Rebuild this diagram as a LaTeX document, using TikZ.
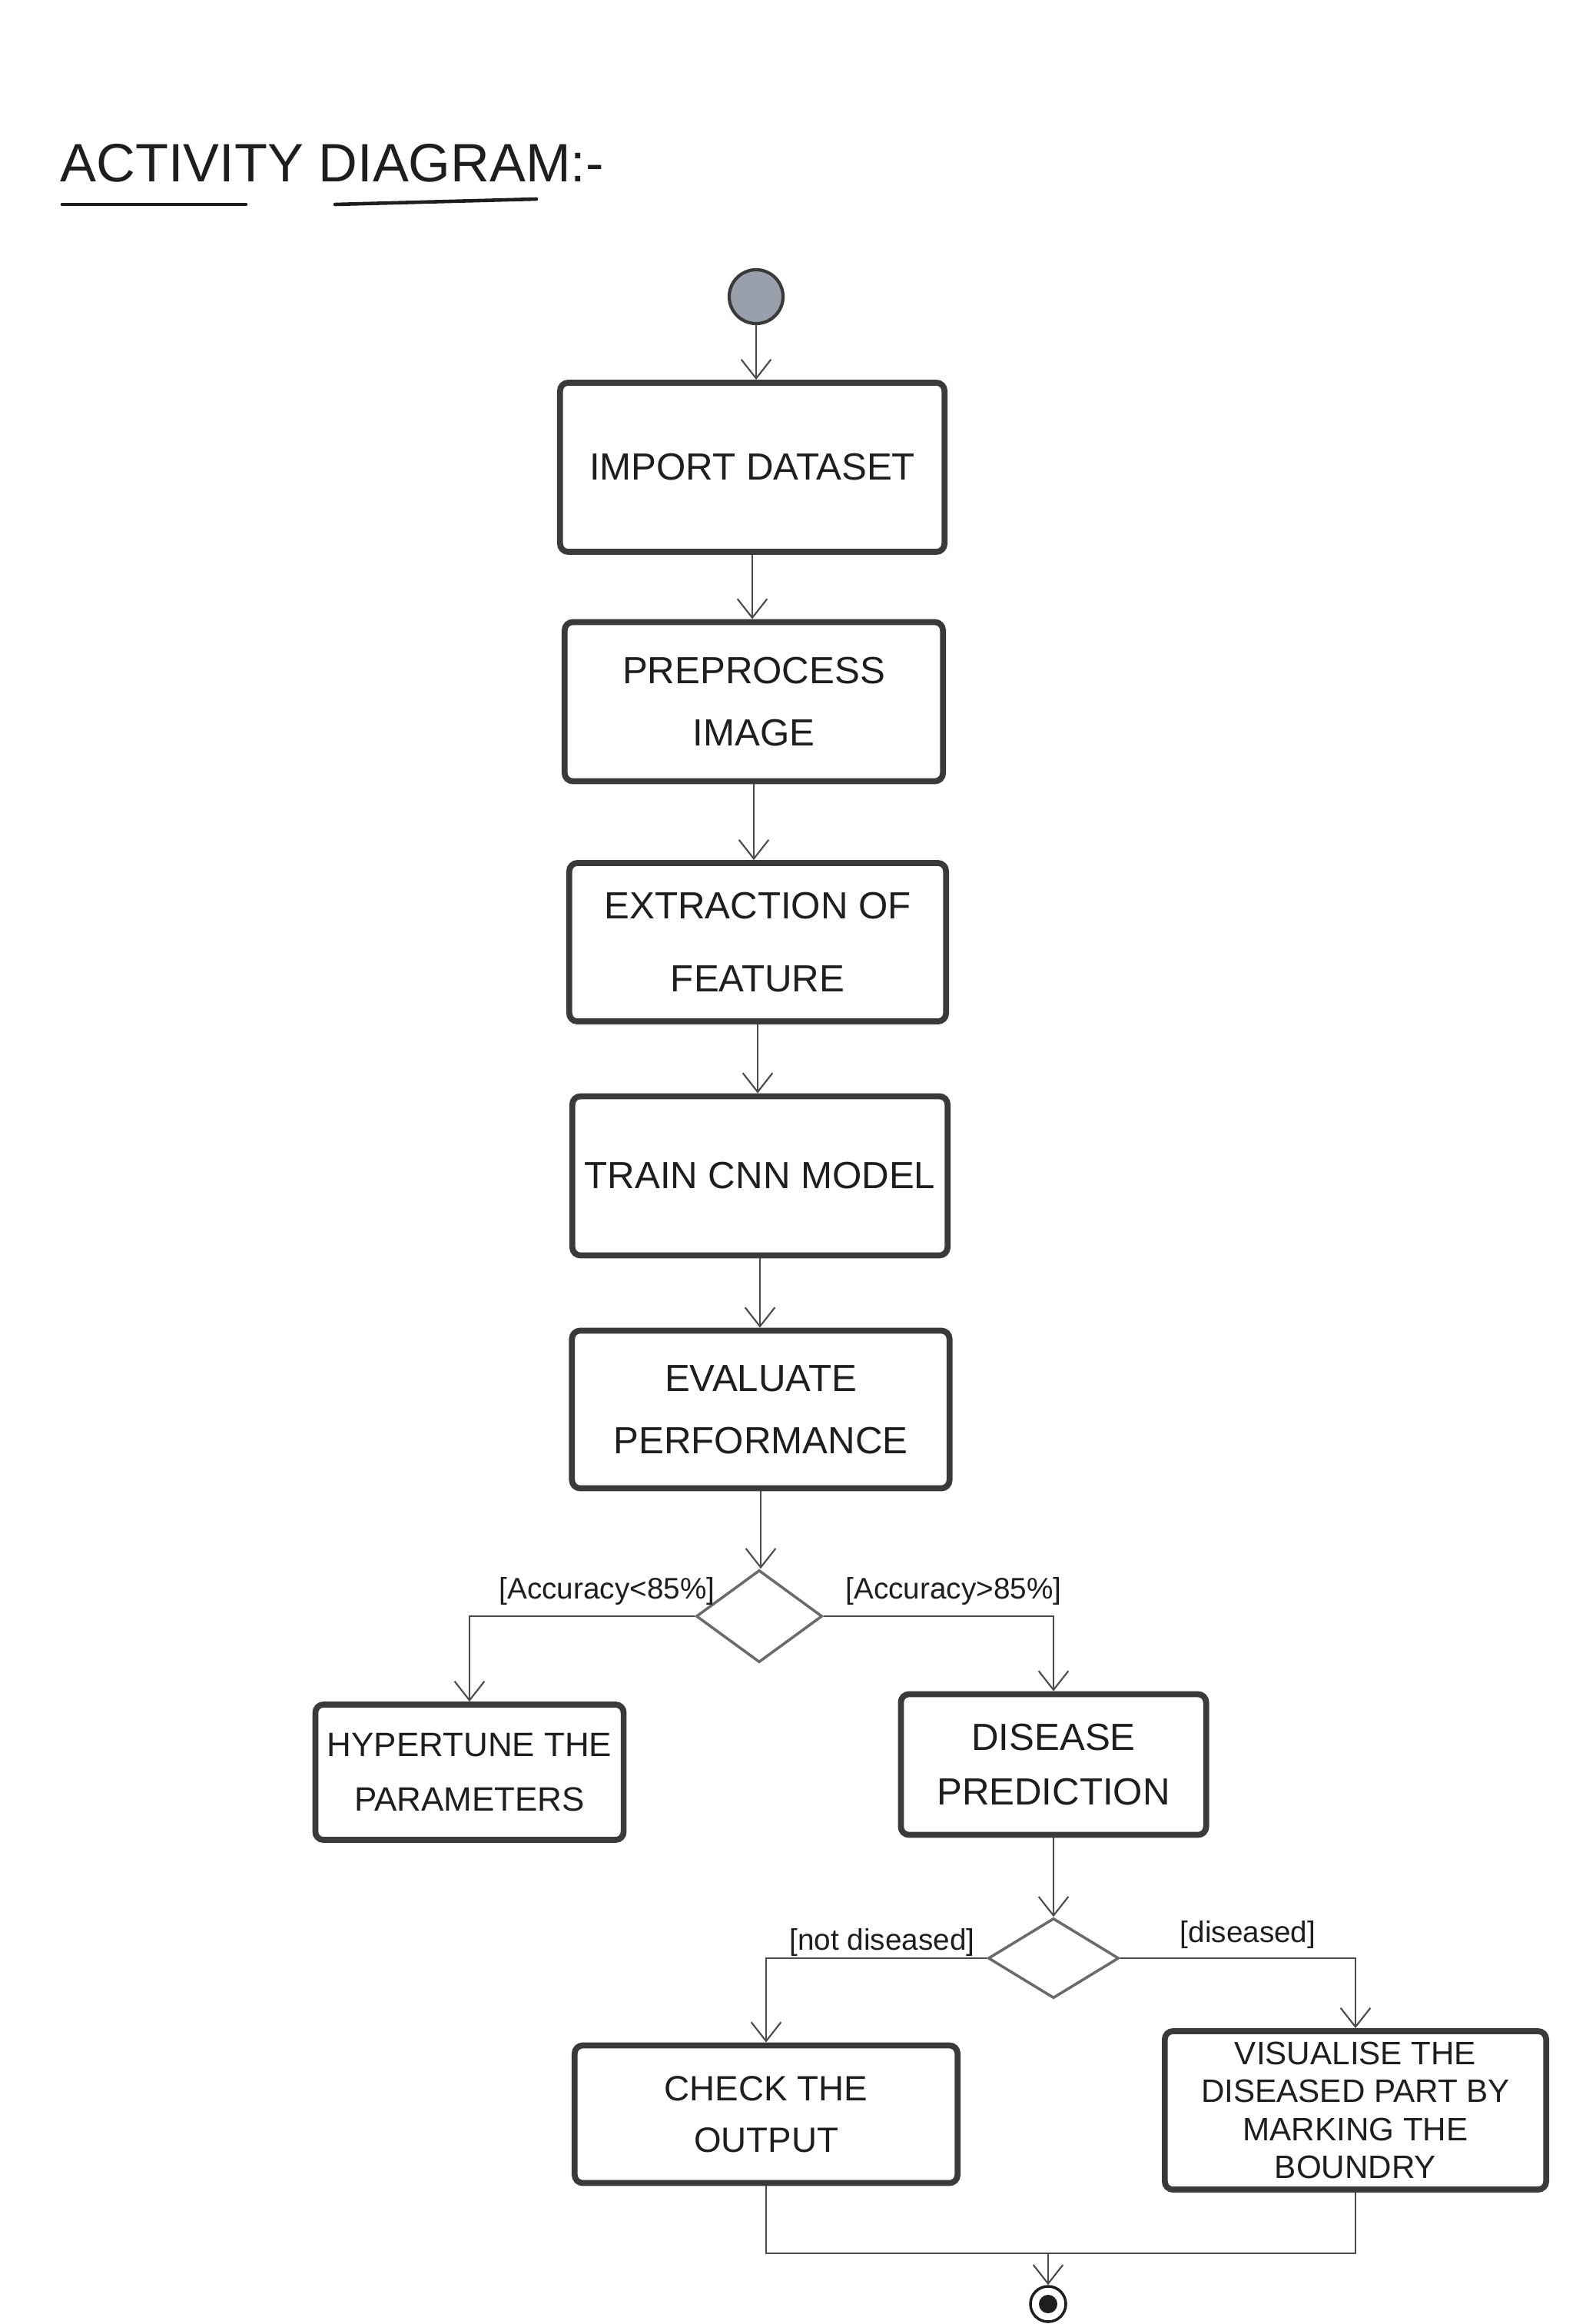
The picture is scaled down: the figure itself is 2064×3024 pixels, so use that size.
\documentclass[tikz,border=0pt]{standalone}
\usepackage{fontspec}
\setmainfont{Liberation Sans}
\usetikzlibrary{shapes.geometric,arrows.meta}
\definecolor{ink}{HTML}{1E1E1E}
\definecolor{boxline}{HTML}{3A3A3A}
\definecolor{conn}{HTML}{4A4A4A}
\definecolor{dline}{HTML}{6A6A6A}
\definecolor{startfill}{HTML}{9AA0AB}
\tikzset{
  actbox/.style={draw=boxline, line width=2.2pt, rounded corners=3pt, align=center,
    text=ink, font=\fontsize{14}{23}\selectfont, inner sep=2pt},
  guard/.style={text=ink, font=\fontsize{11}{13}\selectfont, inner sep=1pt},
  flow/.style={draw=conn, line width=0.6pt, -{Straight Barb[length=7pt,width=11pt]}},
  plainflow/.style={draw=conn, line width=0.6pt},
  decision/.style={diamond, draw=dline, line width=1pt, inner sep=0pt,
    minimum width=1.64cm, minimum height=1.2cm},
}
\begin{document}
\begin{tikzpicture}[x=0.01cm,y=-0.01cm]
\useasboundingbox (0,0) rectangle (2064,3024);
% title
\node[anchor=west, text=ink, font=\fontsize{20}{24}\selectfont, inner sep=0pt] (title) at (78,212) {ACTIVITY DIAGRAM:-};
\draw[ink, line width=1.3pt, line cap=round] (81,266) -- (320,266);
\draw[ink, line width=1.3pt, line cap=round] (436,266) -- (698,259);
% start
\node[circle, draw=boxline, line width=1.2pt, fill=startfill, minimum size=0.7cm, inner sep=0pt] (start) at (984,386) {};
% activities
\node[actbox, minimum width=5.0cm, minimum height=2.2cm] (import) at (979,608) {IMPORT DATASET};
\node[actbox, minimum width=4.92cm, minimum height=2.07cm] (prep) at (981,913) {PREPROCESS\\IMAGE};
\node[actbox, minimum width=4.9cm, minimum height=2.06cm, font=\fontsize{14}{27}\selectfont] (extr) at (986,1226) {EXTRACTION OF\\FEATURE};
\node[actbox, minimum width=4.88cm, minimum height=2.07cm] (train) at (989,1530) {TRAIN CNN MODEL};
\node[actbox, minimum width=4.91cm, minimum height=2.05cm] (eval) at (990,1834) {EVALUATE\\PERFORMANCE};
\node[decision] (d1) at (988,2103) {};
\node[actbox, minimum width=4.01cm, minimum height=1.76cm, font=\fontsize{12.5}{20}\selectfont] (hyper) at (611,2306) {HYPERTUNE THE\\PARAMETERS};
\node[actbox, minimum width=3.97cm, minimum height=1.83cm, font=\fontsize{14}{20}\selectfont] (disease) at (1371,2296) {DISEASE\\PREDICTION};
\node[decision, minimum width=1.7cm, minimum height=1.04cm] (d2) at (1371,2548) {};
\node[actbox, minimum width=4.98cm, minimum height=1.79cm, font=\fontsize{13}{19}\selectfont] (check) at (997,2751) {CHECK THE\\OUTPUT};
\node[actbox, minimum width=4.96cm, minimum height=2.06cm, font=\fontsize{12}{14}\selectfont] (vis) at (1764,2746) {VISUALISE THE\\DISEASED PART BY\\MARKING THE\\BOUNDRY};
% end
\node[circle, draw=ink, line width=1pt, minimum size=0.46cm, inner sep=0pt] (stop) at (1364,2998) {};
\fill[ink] (stop.center) circle[radius=0.12cm];
% connectors
\draw[flow] (start) -- (start |- import.north);
\draw[flow] (import.south) -- (import.south |- prep.north);
\draw[flow] (prep.south) -- (prep.south |- extr.north);
\draw[flow] (extr.south) -- (extr.south |- train.north);
\draw[flow] (train.south) -- (train.south |- eval.north);
\draw[flow] (eval.south) -- (eval.south |- d1.north);
\draw[flow] (d1.west) -| (hyper.north);
\draw[flow] (d1.east) -| (disease.north);
\draw[flow] (disease.south) -- (d2.north);
\draw[flow] (d2.west) -| (check.north);
\draw[flow] (d2.east) -| (vis.north);
\coordinate (join) at (1364,2932);
\draw[plainflow] (check.south) |- (join) -| (vis.south);
\draw[flow] (join) -- (stop.north);
% guards
\node[guard] (g1) at (790,2070) {[Accuracy<85\%]};
\node[guard] (g2) at (1241,2070) {[Accuracy>85\%]};
\node[guard] (g3) at (1148,2527) {[not diseased]};
\node[guard] (g4) at (1624,2517) {[diseased]};
\end{tikzpicture}
\end{document}
